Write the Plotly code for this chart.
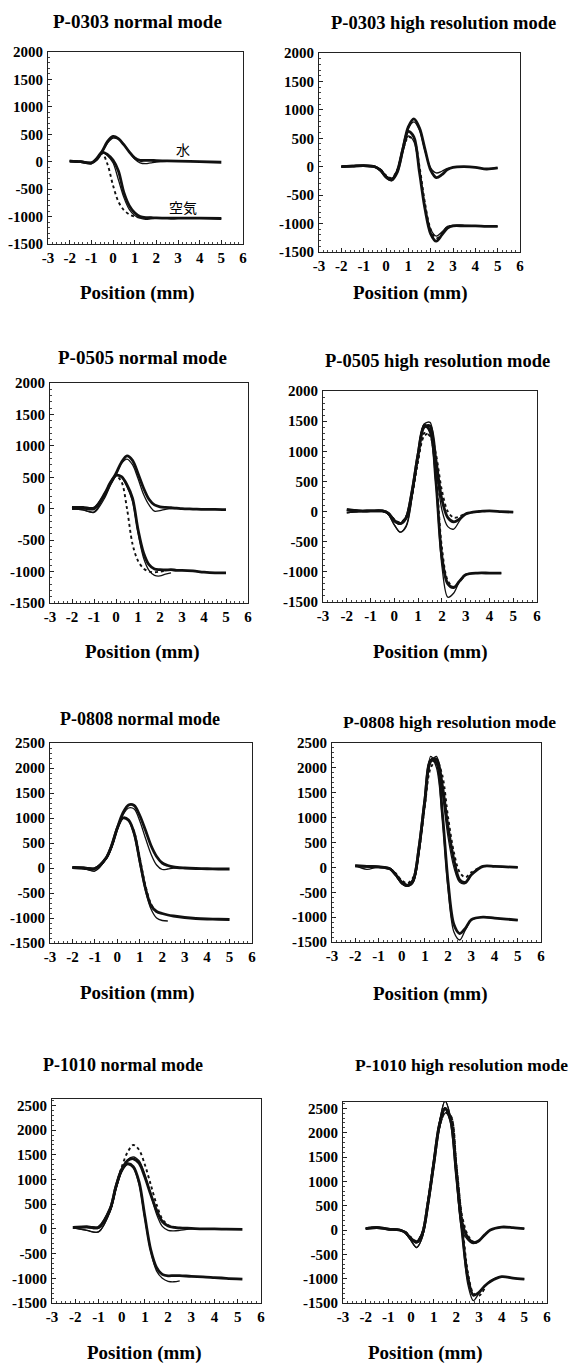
import plotly.graph_objects as go

# ---------------- data ----------------
TITLES = ["P-0303 normal mode", "P-0303 high resolution mode",
          "P-0505 normal mode", "P-0505 high resolution mode",
          "P-0808 normal mode", "P-0808 high resolution mode",
          "P-1010 normal mode", "P-1010 high resolution mode"]
X_TITLE = "Position (mm)"
X_TICKS = [-3, -2, -1, 0, 1, 2, 3, 4, 5, 6]
Y_TICKS_A = [-1500, -1000, -500, 0, 500, 1000, 1500, 2000]
Y_TICKS_B = [-1500, -1000, -500, 0, 500, 1000, 1500, 2000, 2500]
LABEL_WATER = "水"
LABEL_AIR = "空気"

# P-0303 normal
X1 = [-2, -1.5, -1, -0.75, -0.5, -0.25, 0, 0.25, 0.5, 0.75, 1, 1.25, 1.5, 1.75, 2, 2.5, 3, 4, 5]
W1_THICK = [10, 0, -20, 40, 190, 370, 460, 420, 310, 180, 70, 25, 25, 25, 20, 15, 10, 0, -10]
W1_THIN = [10, 0, -25, 40, 170, 340, 430, 410, 320, 180, 50, -20, -35, -20, -5, 5, 5, None, None]
A1_THICK = [10, 0, -25, 60, 175, 130, 30, -170, -560, -800, -930, -1000, -1020, -1020, -1025, -1030, -1030, -1030, -1035]
A1_THIN = [10, 0, -25, 60, 170, 110, -20, -330, -650, -870, -980, -1030, -1050, -1040, -1030, -1030, -1030, -1030, -1035]
A1_DOT = [None, None, None, 50, 150, -50, -430, -730, -880, -960, -1000, -1020, -1020, -1020, -1025, None, None, None, None]

# P-0303 high resolution
X2 = [-2, -1.5, -1, -0.5, -0.25, 0, 0.25, 0.5, 0.75, 1, 1.25, 1.5, 1.75, 2, 2.25, 2.5, 2.75, 3, 3.5, 4, 4.5, 5]
W2_THICK = [0, 10, 20, 0, -60, -180, -235, -100, 300, 700, 840, 680, 300, -60, -190, -140, -50, -10, 0, -10, -40, -20]
W2_THIN = [0, 10, 20, 0, -50, -160, -210, -90, 290, 670, 790, 640, 270, -20, -110, -80, -30, -10, 0, -10, -40, -20]
A2_THICK = [0, 10, 20, 0, -60, -180, -230, -80, 300, 620, 520, -100, -750, -1180, -1310, -1200, -1080, -1040, -1040, -1040, -1050, -1050]
A2_THIN = [0, 10, 20, 0, -50, -160, -210, -70, 280, 540, 440, -80, -700, -1100, -1220, -1150, -1050, -1030, -1030, -1040, -1050, -1050]
A2_DOT = [None, None, None, 0, -50, -150, -200, -60, 280, 520, 470, 0, -650, -1100, -1260, -1180, -1060, -1040, None, None, None, None]

# P-0505 normal
X3 = [-2, -1.5, -1, -0.5, -0.25, 0, 0.25, 0.5, 0.75, 1, 1.25, 1.5, 1.75, 2, 2.25, 2.5, 2.75, 3, 3.5, 4, 4.5, 5]
W3_THICK = [20, 20, 10, 230, 400, 560, 740, 840, 770, 560, 330, 150, 60, 30, 20, 15, 10, 0, -5, -10, -10, -15]
W3_THIN = [0, -20, -60, 180, 380, 540, 720, 790, 700, 480, 230, 60, -40, -30, -10, 0, 0, 0, None, None, None, None]
A3_THICK = [0, 10, 0, 250, 420, 530, 510, 380, 170, -330, -700, -890, -960, -970, -975, -970, -980, -980, -990, -1010, -1020, -1020]
A3_THIN = [0, -20, -50, 230, 410, 530, 500, 350, 120, -380, -780, -980, -1060, -1070, -1040, -1020, None, None, None, None, None, None]
A3_DOT = [None, None, None, 240, 410, 520, 430, 0, -560, -830, -950, -1000, -1010, -1000, -990, None, None, None, None, None, None, None]

# P-0505 high resolution
X4 = [-2, -1.5, -1, -0.5, -0.25, 0, 0.25, 0.5, 0.75, 1, 1.25, 1.5, 1.75, 2, 2.25, 2.5, 2.75, 3, 3.5, 4, 4.5, 5]
W4_THIN = [-20, 0, 10, 10, -50, -220, -340, -250, 250, 950, 1450, 1480, 750, 30, -250, -290, -150, -40, 0, 10, 0, -10]
W4_THICK = [30, 10, 10, 10, -30, -150, -200, -100, 350, 950, 1400, 1420, 850, 200, -100, -170, -120, -40, 0, 10, 0, -10]
W4_DOT = [None, None, None, 10, -30, -130, -180, -80, 300, 850, 1250, 1300, 950, 350, 0, -100, -80, -30, 0, 10, None, None]
A4_THIN = [-20, 0, 10, 10, -50, -220, -340, -230, 250, 950, 1450, 1300, 450, -900, -1420, -1350, -1150, -1040, -1020, -1020, -1020, None]
A4_THICK = [30, 10, 10, 10, -30, -150, -200, -100, 330, 950, 1420, 1350, 500, -750, -1200, -1260, -1150, -1050, -1020, -1020, -1020, None]
A4_DOT = [None, None, None, None, None, None, None, None, 300, 850, 1300, 1250, 600, -600, -1150, -1250, -1150, -1050, None, None, None, None]

# P-0808 normal
X5 = [-2, -1.5, -1, -0.5, -0.25, 0, 0.25, 0.5, 0.75, 1, 1.25, 1.5, 1.75, 2, 2.25, 2.5, 3, 3.5, 4, 4.5, 5]
W5_THICK = [10, 0, -10, 200, 450, 800, 1100, 1260, 1250, 1050, 760, 450, 230, 100, 50, 20, 0, -10, -15, -20, -20]
W5_THIN = [10, -10, -60, 180, 420, 780, 1060, 1200, 1180, 940, 600, 280, 60, -30, -20, 0, 0, None, None, None, None]
A5_THICK = [10, 0, -10, 200, 450, 800, 1000, 960, 700, 150, -400, -750, -870, -910, -940, -960, -990, -1010, -1020, -1025, -1030]
A5_THIN = [10, -10, -60, 180, 420, 780, 990, 940, 650, 80, -450, -820, -1000, -1050, -1060, None, None, None, None, None, None]
A5_DOT = [None, None, None, 190, 430, 790, 1000, 950, 720, 200, -350, -720, -880, None, None, None, None, None, None, None, None]

# P-0808 high resolution
X6 = [-2, -1.5, -1, -0.5, -0.25, 0, 0.25, 0.5, 0.75, 1, 1.25, 1.5, 1.75, 2, 2.25, 2.5, 2.75, 3, 3.5, 4, 4.5, 5]
W6_THIN = [40, 20, 10, -30, -150, -330, -380, -300, 300, 1300, 2100, 2230, 1500, 600, 0, -300, -320, -150, 20, 20, 10, 0]
W6_THICK = [30, 20, 10, -30, -150, -300, -360, -250, 400, 1350, 2150, 2180, 1650, 800, 150, -250, -300, -150, 20, 20, 10, 0]
W6_DOT = [None, None, None, -20, -120, -260, -320, -200, 350, 1250, 2000, 2150, 1850, 1000, 300, -100, -200, -100, 20, 20, None, None]
A6_THIN = [40, -40, 10, -30, -150, -330, -380, -300, 350, 1400, 2230, 2000, 1000, -450, -1300, -1460, -1250, -1060, -1000, -1020, -1040, -1060]
A6_THICK = [30, 20, 10, -30, -150, -300, -360, -250, 400, 1350, 2150, 2100, 1100, -300, -1150, -1330, -1220, -1050, -1000, -1020, -1040, -1060]

# P-1010 normal
X7 = [-2.1, -1.5, -1, -0.5, -0.25, 0, 0.25, 0.5, 0.75, 1, 1.25, 1.5, 1.75, 2, 2.25, 2.5, 3, 3.5, 4, 4.5, 5.2]
W7_THICK = [30, 40, 30, 400, 850, 1200, 1380, 1420, 1330, 1050, 700, 380, 150, 60, 30, 20, 10, 0, 0, -5, -10]
W7_THIN = [20, -30, -60, 350, 800, 1180, 1400, 1460, 1380, 1100, 700, 300, 50, -30, -40, -30, 0, -10, None, None, None]
W7_DOT = [None, None, 20, 380, 850, 1250, 1550, 1700, 1600, 1300, 900, 500, 200, 80, 40, 20, 0, None, None, None, None]
A7_THICK = [30, 40, 30, 400, 850, 1200, 1320, 1260, 950, 250, -420, -780, -920, -950, -945, -945, -960, -970, -985, -1000, -1015]
A7_THIN = [20, -30, -60, 350, 800, 1150, 1300, 1230, 900, 200, -450, -850, -1000, -1060, -1070, -1050, None, None, None, None, None]

# P-1010 high resolution
X8 = [-2, -1.5, -1, -0.5, -0.25, 0, 0.25, 0.5, 0.75, 1, 1.25, 1.5, 1.75, 2, 2.25, 2.5, 2.75, 3, 3.25, 3.5, 4, 4.5, 5]
W8_THIN = [30, 60, 10, 0, -60, -220, -360, -150, 500, 1300, 2200, 2650, 2300, 1100, 0, -200, -280, -230, -100, 0, 60, 50, 30]
W8_THICK = [30, 50, 20, 0, -50, -180, -250, -80, 550, 1350, 2150, 2500, 2250, 1200, 150, -150, -260, -220, -100, 0, 60, 50, 30]
W8_DOT = [None, None, None, 0, -40, -150, -230, -50, 600, 1400, 2100, 2400, 2350, 1350, 300, -100, -240, -220, -100, 0, None, None, None]
A8_THIN = [30, 60, 10, 0, -60, -220, -360, -150, 500, 1300, 2200, 2650, 2300, 1100, -50, -1100, -1450, -1300, -1150, -1040, -960, -990, -1010]
A8_THICK = [30, 50, 20, 0, -50, -180, -250, -80, 550, 1350, 2150, 2500, 2250, 1150, 0, -950, -1340, -1280, -1150, -1060, -960, -990, -1010]
A8_DOT = [None, None, None, None, None, None, None, None, 600, 1400, 2100, 2400, 2350, 1350, 200, -850, -1300, -1350, -1200, None, None, None, None]

# ---------------- layout geometry ----------------
W, H = 579, 1363
# plot boxes in pixels: left, right, top, bottom
BOXES = [(48, 243, 52, 244), (319, 520, 53, 252),
         (50, 248, 383, 603), (323, 537, 391, 602),
         (50, 252, 743, 943), (332, 541, 743, 942),
         (52, 261, 1099, 1303), (343, 547, 1102, 1303)]
Y_RANGES = [(-1500, 2000), (-1500, 2000), (-1500, 2000), (-1500, 2000),
            (-1500, 2500), (-1500, 2500), (-1500, 2630), (-1500, 2630)]
TITLE_POS = [(137, 21), (443, 23), (142, 358), (437, 361),
             (140, 719), (449, 722), (123, 1065), (461, 1065)]
TITLE_SIZES = [19, 18.5, 19, 18.5, 18, 17.5, 18, 17.5]
XTITLE_POS = [(137, 293), (410, 293), (142, 652), (430, 652),
              (137, 993), (430, 994), (144, 1353), (426, 1353)]

PANEL_CURVES = [
    (X1, [(W1_THICK, "thick"), (W1_THIN, "thin"), (A1_THICK, "thick"), (A1_THIN, "thin"), (A1_DOT, "dot")]),
    (X2, [(W2_THICK, "thick"), (W2_THIN, "thin"), (A2_THICK, "thick"), (A2_THIN, "thin"), (A2_DOT, "dot")]),
    (X3, [(W3_THICK, "thick"), (W3_THIN, "thin"), (A3_THICK, "thick"), (A3_THIN, "thin"), (A3_DOT, "dot")]),
    (X4, [(W4_THICK, "thick"), (W4_THIN, "thin"), (W4_DOT, "dot"), (A4_THICK, "thick"), (A4_THIN, "thin"), (A4_DOT, "dot")]),
    (X5, [(W5_THICK, "thick"), (W5_THIN, "thin"), (A5_THICK, "thick"), (A5_THIN, "thin"), (A5_DOT, "dot")]),
    (X6, [(W6_THICK, "thick"), (W6_THIN, "thin"), (W6_DOT, "dot"), (A6_THICK, "thick"), (A6_THIN, "thin")]),
    (X7, [(W7_THICK, "thick"), (W7_THIN, "thin"), (W7_DOT, "dot"), (A7_THICK, "thick"), (A7_THIN, "thin")]),
    (X8, [(W8_THICK, "thick"), (W8_THIN, "thin"), (W8_DOT, "dot"), (A8_THICK, "thick"), (A8_THIN, "thin"), (A8_DOT, "dot")]),
]

STYLES = {
    "thick": dict(color="#111111", width=2.8, dash="solid"),
    "thin": dict(color="#111111", width=1.3, dash="solid"),
    "dot": dict(color="#111111", width=1.9, dash="dot"),
}

SERIF = "Liberation Serif, Times New Roman, serif"

def bold_labels(vals):
    return [f"<b>{v}</b>" for v in vals]

fig = go.Figure()
layout = dict(width=W, height=H,
              margin=dict(l=0, r=0, t=0, b=0, pad=0, autoexpand=False),
              paper_bgcolor="white", plot_bgcolor="white", showlegend=False,
              annotations=[])

for i, (xs, curves) in enumerate(PANEL_CURVES):
    n = i + 1
    xa = "x" if n == 1 else f"x{n}"
    ya = "y" if n == 1 else f"y{n}"
    for ys, st in curves:
        fig.add_trace(go.Scatter(x=xs, y=ys, mode="lines", xaxis=xa, yaxis=ya,
                                 line=dict(shape="spline", smoothing=0.9, **STYLES[st]),
                                 connectgaps=False, hoverinfo="skip"))
    l, r, t, b = BOXES[i]
    ymin, ymax = Y_RANGES[i]
    yt = Y_TICKS_A if ymax <= 2000 else Y_TICKS_B
    layout["xaxis" if n == 1 else f"xaxis{n}"] = dict(
        domain=[l / W, r / W], anchor=ya, range=[-3, 6], automargin=False,
        tickvals=X_TICKS, ticktext=bold_labels(X_TICKS),
        showline=True, mirror=True, linecolor="#222", linewidth=1.2,
        ticks="inside", ticklen=4, tickwidth=1, tickcolor="#222",
        minor=dict(dtick=0.2, ticks="inside", ticklen=2, tickcolor="#444"),
        showgrid=False, zeroline=False,
        tickfont=dict(family=SERIF, size=15, color="black"))
    layout["yaxis" if n == 1 else f"yaxis{n}"] = dict(
        domain=[1 - b / H, 1 - t / H], anchor=xa, range=[ymin, ymax], automargin=False,
        tickvals=yt, ticktext=bold_labels(yt), ticklabelstandoff=1,
        showline=True, mirror=True, linecolor="#222", linewidth=1.2,
        ticks="inside", ticklen=4, tickwidth=1, tickcolor="#222",
        minor=dict(dtick=100, ticks="inside", ticklen=2, tickcolor="#444"),
        showgrid=False, zeroline=False,
        tickfont=dict(family=SERIF, size=15, color="black"))
    cx, cy = TITLE_POS[i]
    layout["annotations"].append(dict(
        text=f"<b>{TITLES[i]}</b>", xref="paper", yref="paper", x=cx / W, y=1 - cy / H,
        xanchor="center", yanchor="middle", showarrow=False,
        font=dict(family=SERIF, size=TITLE_SIZES[i], color="black")))
    cx, cy = XTITLE_POS[i]
    layout["annotations"].append(dict(
        text=f"<b>{X_TITLE}</b>", xref="paper", yref="paper", x=cx / W, y=1 - cy / H,
        xanchor="center", yanchor="middle", showarrow=False,
        font=dict(family=SERIF, size=19, color="black")))

layout["annotations"].append(dict(text=LABEL_WATER, xref="x", yref="y", x=3.24, y=240,
                                  showarrow=False, font=dict(family="Noto Sans CJK JP", size=14, color="black")))
layout["annotations"].append(dict(text=LABEL_AIR, xref="x", yref="y", x=3.22, y=-820,
                                  showarrow=False, font=dict(family="Noto Sans CJK JP", size=14, color="black")))

fig.update_layout(**layout)
fig.write_html("out.html", config={"displayModeBar": False},
               post_script="document.body.style.margin='0';document.body.style.overflow='hidden';")
